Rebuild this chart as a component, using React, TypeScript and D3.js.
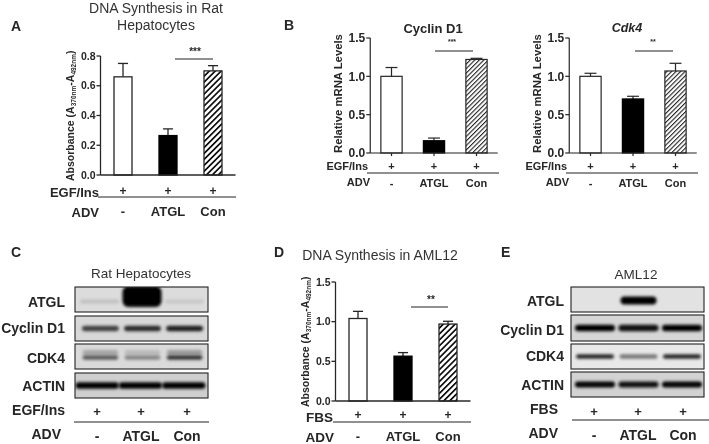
import React from "react";
import * as d3 from "d3";

// ---------- data ----------
const conditions = ["-", "ATGL", "Con"];
const plusRow = ["+", "+", "+"];

const ticksA = [0, 0.2, 0.4, 0.6, 0.8];
const meanA = [0.66, 0.265, 0.7];
const upperA = [0.75, 0.31, 0.735];

const ticksB = [0, 0.5, 1.0, 1.5];
const meanCyclin = [1.0, 0.16, 1.22];
const upperCyclin = [1.115, 0.195, 1.235];
const meanCdk4 = [1.0, 0.705, 1.07];
const upperCdk4 = [1.04, 0.74, 1.17];

const ticksD = [0, 0.5, 1.0, 1.5];
const meanD = [1.04, 0.565, 0.97];
const upperD = [1.13, 0.61, 1.005];

// blot densities per lane, 0..1
const blotC_ATGL = [0.13, 1, 0.1];
const blotC_Cyclin = [0.72, 0.82, 0.88];
const blotC_CDK4 = [0.6, 0.4, 0.8];
const blotC_CDK4_upper = [0.25, 0.15, 0.3];
const blotC_Actin = [1, 1, 1];
const blotE_ATGL = [0, 1, 0];
const blotE_Cyclin = [1, 0.95, 1];
const blotE_CDK4 = [0.85, 0.5, 0.85];
const blotE_Actin = [1, 0.95, 1];

const FONT = "'Liberation Sans', Arial, sans-serif";
const INK = "#262626";

function T({ x, y, s, size = 13, bold = true, anchor = "middle", color = INK, italic = false }: any) {
  return (
    <text x={x} y={y} dy="0.35em" fontFamily={FONT} fontSize={size} fontWeight={bold ? 700 : 400}
      fontStyle={italic ? "italic" : "normal"} textAnchor={anchor} fill={color}>{s}</text>
  );
}

function BarPanel({ x0, x1, yBase, yTop, domainMax, ticks, fmt, mean, upper, inner, tickSize, hatch, sw, xTicks = false }: any) {
  const x = d3.scaleBand<string>().domain(conditions).range([x0, x1]).paddingInner(inner).paddingOuter(inner / 2);
  const y = d3.scaleLinear().domain([0, domainMax]).range([yBase, yTop]);
  const fills = ["#fff", "#000", `url(#${hatch})`];
  const bw = x.bandwidth();
  return (
    <g>
      {conditions.map((c, i) => {
        const bx = x(c)!;
        const cx = bx + bw / 2;
        return (
          <g key={c}>
            <line x1={cx} x2={cx} y1={y(mean[i])} y2={y(upper[i])} stroke={INK} strokeWidth={sw} />
            <line x1={cx - bw * 0.28} x2={cx + bw * 0.28} y1={y(upper[i])} y2={y(upper[i])} stroke={INK} strokeWidth={sw} />
            <rect x={bx} y={y(mean[i])} width={bw} height={yBase - y(mean[i])} fill={fills[i]} stroke={i === 1 ? "#000" : INK} strokeWidth={sw} />
            {xTicks && <line x1={cx} x2={cx} y1={yBase} y2={yBase + 3} stroke={INK} strokeWidth={sw} />}
          </g>
        );
      })}
      <line x1={x0} x2={x0} y1={yBase} y2={yTop} stroke={INK} strokeWidth={sw} />
      <line x1={x0} x2={x1} y1={yBase} y2={yBase} stroke={INK} strokeWidth={sw} />
      {ticks.map((t: number) => (
        <g key={t}>
          <line x1={x0 - 4} x2={x0} y1={y(t)} y2={y(t)} stroke={INK} strokeWidth={sw} />
          <T x={x0 - 5} y={y(t)} s={fmt(t)} size={tickSize} anchor="end" />
        </g>
      ))}
    </g>
  );
}

function RowLabels({ centers, rows }: any) {
  return (
    <g>
      {rows.map((r: any, j: number) => r.vals.map((v: string, i: number) => (
        <T key={`${j}-${i}`} x={centers[i]} y={r.y} s={v} size={r.size} />
      )))}
    </g>
  );
}

function Blot({ x0, x1, y0, y1, bg, lanes, vals, thick, widthF, inner = 0.08 }: any) {
  const x = d3.scaleBand<number>().domain([0, 1, 2]).range(lanes).paddingInner(inner);
  const shade = d3.scaleLinear<string>().domain([0, 1]).range([bg, "#050505"]);
  const cy = (y0 + y1) / 2;
  const bw = x.bandwidth();
  const clipId = `clip-${Math.round(x0)}-${Math.round(y0)}`;
  return (
    <g>
      <clipPath id={clipId}><rect x={x0} y={y0} width={x1 - x0} height={y1 - y0} /></clipPath>
      <rect x={x0} y={y0} width={x1 - x0} height={y1 - y0} fill={bg} />
      <g clipPath={`url(#${clipId})`}>
        {vals.map((layer: any, k: number) => layer.d.map((d: number, i: number) => d > 0 && (
          <rect key={`${k}-${i}`} x={x(i)! + bw * (1 - widthF) / 2} y={cy + layer.off - thick * layer.h / 2}
            width={bw * widthF} height={thick * layer.h} rx={Math.min(thick * layer.h / 2, 6)}
            fill={shade(d)} filter="url(#bandBlur)" />
        )))}
      </g>
      <rect x={x0} y={y0} width={x1 - x0} height={y1 - y0} fill="none" stroke="#222" strokeWidth={1.1} />
    </g>
  );
}

function Absorbance({ x, y, size }: any) {
  return (
    <text transform={`translate(${x},${y}) rotate(-90)`} fontFamily={FONT} fontSize={size} fontWeight={700} fill={INK} textAnchor="start">
      Absorbance (A<tspan fontSize={size * 0.62} dy={2}>370nm</tspan><tspan dy={-2}>-A</tspan><tspan fontSize={size * 0.62} dy={2}>492nm</tspan><tspan dy={-2}>)</tspan>
    </text>
  );
}

export default function App() {
  const f1 = d3.format(".1f");
  const cA = [123, 168, 213];
  const cB1 = [391.5, 434, 476.5];
  const cB2 = [590.5, 633, 675.5];
  const cD = [358, 403, 448];
  const TITLE = "#333";
  return (
    <svg width={709} height={444} viewBox="0 0 709 444" style={{ position: "absolute", left: 0, top: 0, background: "#fff" }}>
      <defs>
        <pattern id="hatchA" width={4.2} height={4.2} patternUnits="userSpaceOnUse" patternTransform="rotate(45)">
          <rect width={4.2} height={4.2} fill="#fff" />
          <rect width={1.7} height={4.2} fill="#111" />
        </pattern>
        <pattern id="hatchB" width={3.2} height={3.2} patternUnits="userSpaceOnUse" patternTransform="rotate(45)">
          <rect width={3.2} height={3.2} fill="#fff" />
          <rect width={1.1} height={3.2} fill="#222" />
        </pattern>
        <filter id="bandBlur" x="-20%" y="-80%" width="140%" height="260%">
          <feGaussianBlur stdDeviation="1.4" />
        </filter>
        <filter id="soft" x="0" y="0" width="100%" height="100%">
          <feGaussianBlur stdDeviation="0.35" />
        </filter>
      </defs>

      <g filter="url(#soft)">
        {/* Panel letters */}
        <T x={11} y={26} s="A" size={14} anchor="start" />
        <T x={284} y={25} s="B" size={14} anchor="start" />
        <T x={11} y={252} s="C" size={14} anchor="start" />
        <T x={274} y={252} s="D" size={14} anchor="start" />
        <T x={501} y={252} s="E" size={14} anchor="start" />

        {/* Panel A */}
        <T x={156} y={8} s="DNA Synthesis in Rat" size={14} bold={false} color={TITLE} />
        <T x={156} y={25} s="Hepatocytes" size={14} bold={false} color={TITLE} />
        <BarPanel x0={100.5} x1={235.5} yBase={175} yTop={56} domainMax={0.8} ticks={ticksA} fmt={f1}
          mean={meanA} upper={upperA} inner={0.6} tickSize={10.5} hatch="hatchA" sw={1.3} />
        <Absorbance x={74} y={181} size={10.5} />
        <line x1={175} x2={213} y1={59} y2={59} stroke={INK} strokeWidth={1} />
        <T x={195} y={51} s="***" size={10} />
        <T x={99} y={192} s="EGF/Ins" size={13} anchor="end" />
        <line x1={98} x2={236} y1={197} y2={197} stroke={INK} strokeWidth={1} />
        <T x={99} y={212} s="ADV" size={13} anchor="end" />
        <RowLabels centers={cA} rows={[{ y: 191, vals: plusRow, size: 12 }, { y: 211, vals: conditions, size: 13 }]} />

        {/* Panel B, Cyclin D1 */}
        <T x={433} y={28} s="Cyclin D1" size={13} />
        <BarPanel x0={370.25} x1={497.75} yBase={153} yTop={38} domainMax={1.5} ticks={ticksB} fmt={f1}
          mean={meanCyclin} upper={upperCyclin} inner={0.5} tickSize={12} hatch="hatchB" sw={1.2} xTicks />
        <text transform="translate(342,153) rotate(-90)" fontFamily={FONT} fontSize={11.3} fontWeight={700} fill={INK}>Relative mRNA Levels</text>
        <line x1={435} x2={473} y1={51} y2={51} stroke={INK} strokeWidth={1} />
        <T x={452} y={42} s="***" size={7} />
        <T x={368} y={166} s="EGF/Ins" size={11} anchor="end" />
        <line x1={367} x2={499} y1={173} y2={173} stroke={INK} strokeWidth={1} />
        <T x={370} y={182} s="ADV" size={11} anchor="end" />
        <RowLabels centers={cB1} rows={[{ y: 166, vals: plusRow, size: 11 }, { y: 183, vals: conditions, size: 11 }]} />

        {/* Panel B, Cdk4 */}
        <T x={627} y={28} s="Cdk4" size={12.5} italic />
        <BarPanel x0={569.25} x1={696.75} yBase={153} yTop={38} domainMax={1.5} ticks={ticksB} fmt={f1}
          mean={meanCdk4} upper={upperCdk4} inner={0.5} tickSize={12} hatch="hatchB" sw={1.2} xTicks />
        <text transform="translate(541,153) rotate(-90)" fontFamily={FONT} fontSize={11.3} fontWeight={700} fill={INK}>Relative mRNA Levels</text>
        <line x1={635} x2={673} y1={51} y2={51} stroke={INK} strokeWidth={1} />
        <T x={653} y={42} s="**" size={7} />
        <T x={567} y={166} s="EGF/Ins" size={11} anchor="end" />
        <line x1={566} x2={698} y1={173} y2={173} stroke={INK} strokeWidth={1} />
        <T x={569} y={182} s="ADV" size={11} anchor="end" />
        <RowLabels centers={cB2} rows={[{ y: 166, vals: plusRow, size: 11 }, { y: 183, vals: conditions, size: 11 }]} />

        {/* Panel C */}
        <T x={141} y={273} s="Rat Hepatocytes" size={13.5} bold={false} color={TITLE} />
        <Blot x0={75} x1={208} y0={287} y1={312} bg="#dcdcdc" lanes={[80, 204]} thick={8} widthF={1}
          vals={[{ d: [blotC_ATGL[0], 0, blotC_ATGL[2]], off: 2, h: 0.5 }, { d: [0, blotC_ATGL[1], 0], off: -3, h: 2.6 }]} />
        <Blot x0={75} x1={208} y0={316} y1={341} bg="#d8d8d8" lanes={[81, 204]} thick={5.5} widthF={0.95}
          vals={[{ d: blotC_Cyclin, off: 0, h: 1 }]} />
        <Blot x0={75} x1={208} y0={344} y1={369} bg="#dadada" lanes={[81, 204]} thick={4.5} widthF={0.92}
          vals={[{ d: blotC_CDK4_upper, off: -4, h: 1.1 }, { d: blotC_CDK4, off: 1, h: 1 }]} />
        <Blot x0={75} x1={208} y0={373} y1={398} bg="#cfcfcf" lanes={[76, 205]} thick={6.5} widthF={1.02} inner={0.02}
          vals={[{ d: blotC_Actin, off: 0, h: 1 }]} />
        <T x={65} y={302} s="ATGL" size={14} anchor="end" />
        <T x={65} y={328} s="Cyclin D1" size={14} anchor="end" />
        <T x={65} y={358} s="CDK4" size={14} anchor="end" />
        <T x={65} y={386} s="ACTIN" size={14} anchor="end" />
        <T x={65} y={410} s="EGF/Ins" size={14} anchor="end" />
        <T x={61} y={434} s="ADV" size={14} anchor="end" />
        <line x1={74} x2={209} y1={422} y2={422} stroke={INK} strokeWidth={1.1} />
        <RowLabels centers={[97, 141, 187]} rows={[{ y: 411, vals: plusRow, size: 13 }, { y: 436, vals: conditions, size: 14 }]} />

        {/* Panel D */}
        <T x={380} y={255} s="DNA Synthesis in AML12" size={14} bold={false} color={TITLE} />
        <BarPanel x0={335.5} x1={470.5} yBase={401} yTop={282} domainMax={1.5} ticks={ticksD} fmt={f1}
          mean={meanD} upper={upperD} inner={0.6} tickSize={10.5} hatch="hatchA" sw={1.3} />
        <Absorbance x={309} y={407} size={10.5} />
        <line x1={411} x2={448} y1={307} y2={307} stroke={INK} strokeWidth={1} />
        <T x={431} y={299} s="**" size={10} />
        <T x={333} y={417} s="FBS" size={13.5} anchor="end" />
        <line x1={333} x2={471} y1={422} y2={422} stroke={INK} strokeWidth={1} />
        <T x={334} y={437} s="ADV" size={13.5} anchor="end" />
        <RowLabels centers={cD} rows={[{ y: 415, vals: plusRow, size: 12 }, { y: 436, vals: conditions, size: 13 }]} />

        {/* Panel E */}
        <T x={636} y={274} s="AML12" size={13.5} bold={false} color={TITLE} />
        <Blot x0={571} x1={704} y0={287} y1={312} bg="#e2e2e2" lanes={[575, 702]} thick={8} widthF={0.9}
          vals={[{ d: blotE_ATGL, off: 1, h: 1 }]} />
        <Blot x0={571} x1={704} y0={315} y1={341} bg="#d6d6d6" lanes={[575, 702]} thick={6.5} widthF={1}
          vals={[{ d: blotE_Cyclin, off: 0, h: 1 }]} />
        <Blot x0={571} x1={704} y0={344} y1={369} bg="#e8e8e8" lanes={[575, 702]} thick={4.5} widthF={0.95}
          vals={[{ d: blotE_CDK4, off: 0, h: 1 }]} />
        <Blot x0={571} x1={704} y0={372} y1={397} bg="#d2d2d2" lanes={[575, 702]} thick={6} widthF={1}
          vals={[{ d: blotE_Actin, off: 0, h: 1 }]} />
        <T x={564} y={301} s="ATGL" size={14} anchor="end" />
        <T x={564} y={330} s="Cyclin D1" size={14} anchor="end" />
        <T x={564} y={356} s="CDK4" size={14} anchor="end" />
        <T x={564} y={385} s="ACTIN" size={14} anchor="end" />
        <T x={558} y={409} s="FBS" size={14} anchor="end" />
        <T x={558} y={433} s="ADV" size={14} anchor="end" />
        <line x1={572} x2={709} y1={420} y2={420} stroke={INK} strokeWidth={1.1} />
        <RowLabels centers={[594, 638, 683]} rows={[{ y: 411, vals: plusRow, size: 13 }, { y: 435, vals: conditions, size: 14 }]} />
      </g>
    </svg>
  );
}
